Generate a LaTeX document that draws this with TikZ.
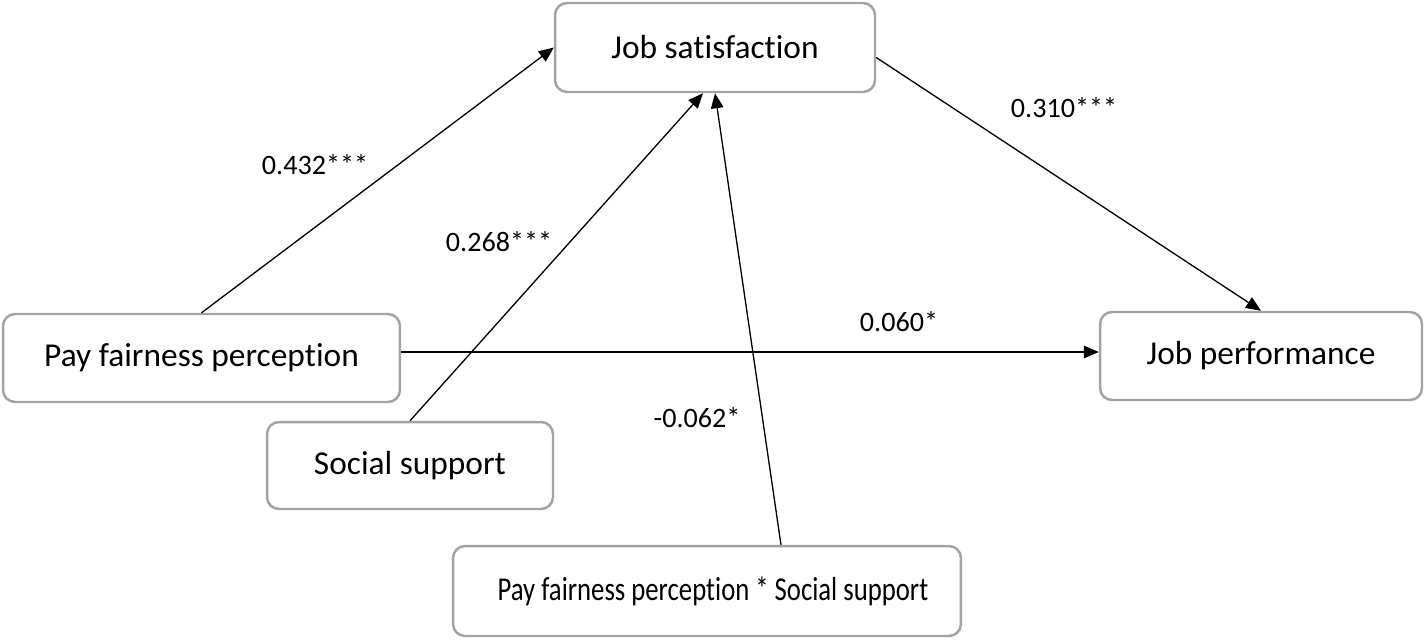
\documentclass[tikz,border=0pt]{standalone}
\usepackage{fontspec}
\setmainfont[Ligatures=NoCommon]{Carlito}
\usetikzlibrary{arrows.meta}
\definecolor{boxgray}{HTML}{A3A3A3}
\tikzset{
  box/.style={draw=boxgray, line width=1.4pt, rounded corners=0.24cm, fill=white,
    inner sep=0pt, font=\fontsize{19}{23}\selectfont},
  link/.style={-{Triangle[length=0.3cm,width=0.25cm]}, line width=0.75pt},
  coef/.style={font=\fontsize{16}{19}\selectfont, inner sep=0pt}
}
\begin{document}
\begin{tikzpicture}[x=0.02cm, y=-0.02cm]
\useasboundingbox (0,0) rectangle (1425,640);

\node[box, minimum width=6.4cm, minimum height=1.78cm] (JS) at (715,47.5) {Job satisfaction};
\node[box, minimum width=6.44cm, minimum height=1.76cm] (JP) at (1261,356) {Job performance};
\node[box, minimum width=7.94cm, minimum height=1.76cm] (PFP) at (201.5,358) {Pay fairness perception};
\node[box, minimum width=5.72cm, minimum height=1.74cm] (SS) at (410,465.5) {Social support};
\node[box, minimum width=10.16cm, minimum height=1.8cm] (IA) at (707,591)
  {\hspace*{0.24cm}\scalebox{0.8}[1]{Pay fairness perception * Social support}};

\draw[link] (PFP.north) -- (JS.west);
\draw[link] (SS.north) -- ([xshift=-0.24cm]JS.south);
\draw[link] ([xshift=1.48cm]IA.north) -- (JS.south);
\draw[link] ([yshift=-0.2cm]JS.east) -- (JP.north);
\draw[link] ([yshift=0.12cm]PFP.east) -- ([yshift=0.12cm]PFP.east -| JP.west);

\node[coef] (c1) at (315,165) {0.432***};
\node[coef] (c2) at (499,242) {0.268***};
\node[coef] (c3) at (1064,108) {0.310***};
\node[coef] (c4) at (899,322) {0.060*};
\node[coef] (c5) at (697,418) {-0.062*};
\end{tikzpicture}
\end{document}
